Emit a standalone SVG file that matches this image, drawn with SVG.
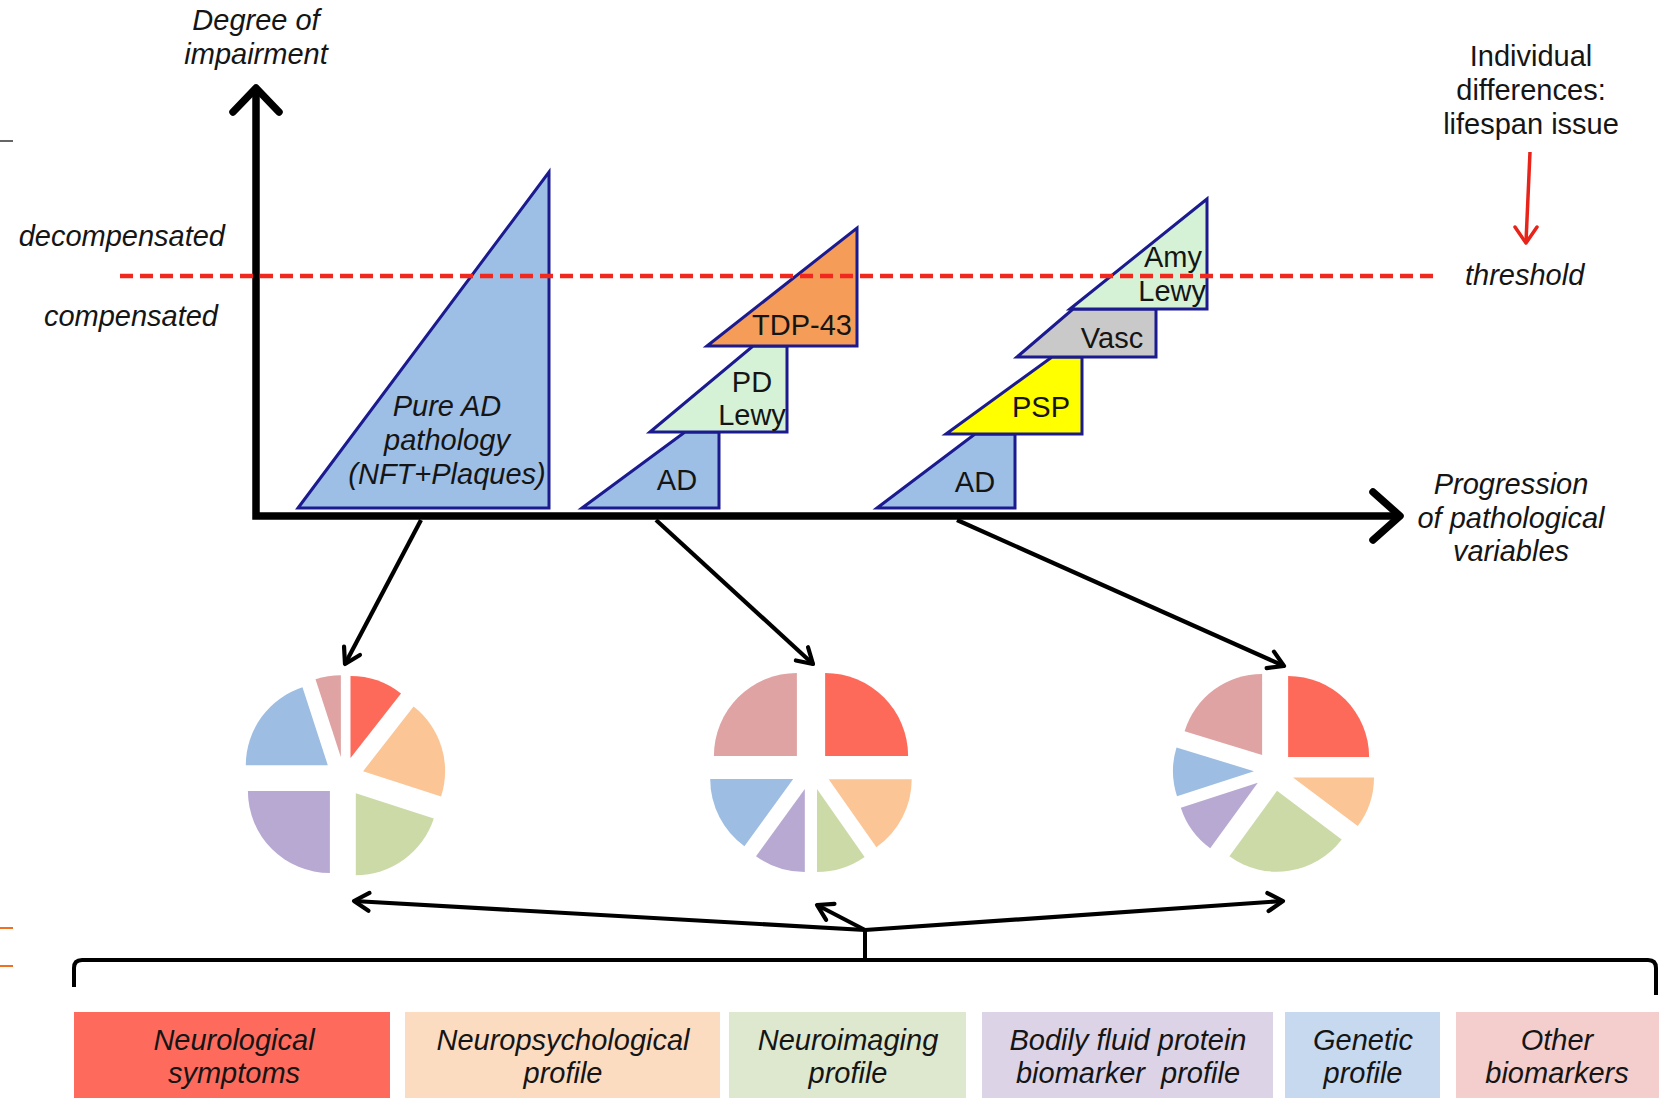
<svg xmlns="http://www.w3.org/2000/svg" width="1659" height="1098" viewBox="0 0 1659 1098">
<defs>
<marker id="arr" viewBox="0 0 24 24" refX="20" refY="12" markerWidth="24" markerHeight="24" markerUnits="userSpaceOnUse" orient="auto">
<path d="M5,3 L20,12 L5,21" fill="none" stroke="#000" stroke-width="4.2" stroke-linecap="round" stroke-linejoin="round"/>
</marker>
</defs>
<style>
.t{font-family:"Liberation Sans",Arial,sans-serif;font-size:29px;fill:#151515}
.i{font-style:italic}
.m{text-anchor:middle}
.e{text-anchor:end}
.tri{stroke:#1b1b8f;stroke-width:3;stroke-linejoin:miter}
.blue{fill:#9dbfe6}
.lg{fill:#d6f2d6}
.or{fill:#f59d58}
.ye{fill:#ffff00}
.gr{fill:#c9c9c9}
.conn{stroke:#000;stroke-width:4.2;fill:none;marker-end:url(#arr)}
.axis{stroke:#000;stroke-width:7.5;fill:none}
.sR{fill:#fd6a5a}.sO{fill:#fbc596}.sG{fill:#ccdaa8}.sP{fill:#b8a9d2}.sB{fill:#9dbde2}.sK{fill:#dfa3a3}
.box{stroke:none}
</style>
<rect x="0" y="0" width="1659" height="1098" fill="#fff"/>
<g id="margin-marks">
<line x1="0" y1="141" x2="13" y2="141" stroke="#666" stroke-width="2"/>
<line x1="0" y1="928" x2="13" y2="928" stroke="#f07020" stroke-width="2"/>
<line x1="0" y1="966" x2="13" y2="966" stroke="#f07020" stroke-width="2"/>
</g>
<g id="labels">
<text class="t i m" x="256" y="30">Degree of</text>
<text class="t i m" x="256" y="64">impairment</text>
<text class="t i e" x="225" y="246">decompensated</text>
<text class="t i e" x="218" y="326">compensated</text>
<text class="t i" x="1465" y="285">threshold</text>
<text class="t m" x="1531" y="66">Individual</text>
<text class="t m" x="1531" y="100">differences:</text>
<text class="t m" x="1531" y="134">lifespan issue</text>
<text class="t i m" x="1511" y="494">Progression</text>
<text class="t i m" x="1511" y="528">of pathological</text>
<text class="t i m" x="1511" y="561">variables</text>
</g>
<g id="tri-pure-ad">
<polygon class="tri blue" points="298,508 549,172 549,508"/>
<text class="t i m" x="447" y="416">Pure AD</text>
<text class="t i m" x="447" y="450">pathology</text>
<text class="t i m" x="447" y="484">(NFT+Plaques)</text>
</g>
<g id="tri-ad2">
<polygon class="tri blue" points="582,508 685,432 719,432 719,508"/>
<text class="t m" x="677" y="490">AD</text>
</g>
<g id="tri-pd-lewy">
<polygon class="tri lg" points="650,432 753,346 787,346 787,432"/>
<text class="t m" x="752" y="392">PD</text>
<text class="t m" x="752" y="425">Lewy</text>
</g>
<g id="tri-tdp43">
<polygon class="tri or" points="707,346 857,228 857,346"/>
<text class="t e" x="852" y="335">TDP-43</text>
</g>
<g id="tri-ad3">
<polygon class="tri blue" points="877,508 975,434 1015,434 1015,508"/>
<text class="t m" x="975" y="492">AD</text>
</g>
<g id="tri-psp">
<polygon class="tri ye" points="946,434 1052,357 1082,357 1082,434"/>
<text class="t m" x="1041" y="417">PSP</text>
</g>
<g id="tri-vasc">
<polygon class="tri gr" points="1017,357 1073,309 1156,309 1156,357"/>
<text class="t m" x="1112" y="348">Vasc</text>
</g>
<g id="tri-amy-lewy">
<polygon class="tri lg" points="1070,309 1207,199 1207,309"/>
<text class="t e" x="1202" y="267">Amy</text>
<text class="t e" x="1206" y="301">Lewy</text>
</g>
<g id="axes">
<path class="axis" d="M256,90 L256,516 L1398,516" stroke-linejoin="miter"/>
<polyline class="axis" points="233,112 256,88 279,112" stroke-linecap="round" stroke-linejoin="round"/>
<polyline class="axis" points="1373,492 1400,516 1373,540" stroke-linecap="round" stroke-linejoin="round"/>
</g>
<g id="threshold-line">
<line x1="120" y1="276" x2="1434" y2="276" stroke="#f0281e" stroke-width="4.5" stroke-dasharray="13 7"/>
<line x1="1530" y1="152" x2="1526" y2="242" stroke="#e8231a" stroke-width="3.5"/>
<polyline points="1515,227 1526,243 1537,227" fill="none" stroke="#e8231a" stroke-width="3.5" stroke-linecap="round" stroke-linejoin="round"/>
</g>
<g id="pie1">
<path class="sK" d="M340.9,757.3 L315.5,679.3 A82,82 0 0 1 340.9,675.3 Z"/>
<path class="sR" d="M350.5,758.1 L350.5,676.1 A82,82 0 0 1 401.0,693.5 Z"/>
<path class="sO" d="M363.1,771.2 L413.6,706.5 A82,82 0 0 1 441.1,796.5 Z"/>
<path class="sG" d="M355.8,793.2 L433.8,818.5 A82,82 0 0 1 355.8,875.2 Z"/>
<path class="sP" d="M329.9,791.1 L329.9,873.1 A82,82 0 0 1 247.9,791.1 Z"/>
<path class="sB" d="M327.8,765.2 L245.8,765.2 A82,82 0 0 1 302.5,687.3 Z"/>
</g>
<g id="pie2">
<path class="sR" d="M825.1,755.9 L825.1,672.9 A83,83 0 0 1 908.1,755.9 Z"/>
<path class="sO" d="M828.7,779.2 L911.7,779.2 A83,83 0 0 1 876.4,847.2 Z"/>
<path class="sG" d="M817.0,789.1 L864.6,857.1 A83,83 0 0 1 817.0,872.1 Z"/>
<path class="sP" d="M804.8,789.0 L804.8,872.0 A83,83 0 0 1 756.0,856.2 Z"/>
<path class="sB" d="M793.2,779.1 L744.4,846.2 A83,83 0 0 1 710.2,779.1 Z"/>
<path class="sK" d="M796.9,755.9 L713.9,755.9 A83,83 0 0 1 796.9,672.9 Z"/>
</g>
<g id="pie3">
<path class="sR" d="M1288.1,756.9 L1288.1,675.9 A81,81 0 0 1 1369.1,756.9 Z"/>
<path class="sO" d="M1293.0,777.4 L1374.0,777.4 A81,81 0 0 1 1357.7,826.1 Z"/>
<path class="sG" d="M1277.0,790.8 L1341.7,839.5 A81,81 0 0 1 1229.4,856.3 Z"/>
<path class="sP" d="M1257.8,782.8 L1210.2,848.3 A81,81 0 0 1 1180.8,807.8 Z"/>
<path class="sB" d="M1254.0,771.2 L1177.0,796.2 A81,81 0 0 1 1176.5,747.5 Z"/>
<path class="sK" d="M1262.1,754.9 L1184.6,731.2 A81,81 0 0 1 1262.1,673.9 Z"/>
</g>
<g id="connectors">
<line class="conn" x1="421" y1="520" x2="345" y2="664"/>
<line class="conn" x1="656" y1="520" x2="813" y2="664"/>
<line class="conn" x1="957" y1="520" x2="1284" y2="666"/>
<path d="M74,987 L74,968 Q74,960 82,960 L1648,960 Q1656,960 1656,968 L1656,995" fill="none" stroke="#000" stroke-width="4"/>
<line x1="865" y1="960" x2="865" y2="930" stroke="#000" stroke-width="4"/>
<line class="conn" x1="865" y1="930" x2="354" y2="901"/>
<line class="conn" x1="865" y1="930" x2="817" y2="905"/>
<line class="conn" x1="865" y1="930" x2="1283" y2="901"/>
</g>
<g id="box-neurological">
<rect class="box" x="74" y="1012" width="316" height="90" fill="#fe6b5d"/>
<text class="t i m" x="234" y="1050">Neurological</text>
<text class="t i m" x="234" y="1083">symptoms</text>
</g>
<g id="box-neuropsych">
<rect class="box" x="405" y="1012" width="315" height="90" fill="#fbdcc1"/>
<text class="t i m" x="563" y="1050">Neuropsychological</text>
<text class="t i m" x="563" y="1083">profile</text>
</g>
<g id="box-neuroimaging">
<rect class="box" x="729" y="1012" width="237" height="90" fill="#dde8cf"/>
<text class="t i m" x="848" y="1050">Neuroimaging</text>
<text class="t i m" x="848" y="1083">profile</text>
</g>
<g id="box-bodily">
<rect class="box" x="982" y="1012" width="291" height="90" fill="#dcd4e6"/>
<text class="t i m" x="1128" y="1050">Bodily fluid protein</text>
<text class="t i m" x="1128" y="1083" style="white-space:pre">biomarker  profile</text>
</g>
<g id="box-genetic">
<rect class="box" x="1285" y="1012" width="155" height="90" fill="#c6d9ee"/>
<text class="t i m" x="1363" y="1050">Genetic</text>
<text class="t i m" x="1363" y="1083">profile</text>
</g>
<g id="box-other">
<rect class="box" x="1456" y="1012" width="203" height="90" fill="#f4cdcd"/>
<text class="t i m" x="1557" y="1050">Other</text>
<text class="t i m" x="1557" y="1083">biomarkers</text>
</g>
</svg>
